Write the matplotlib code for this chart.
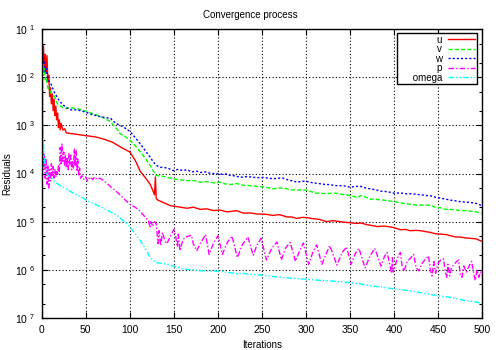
import math

import matplotlib

matplotlib.use("Agg")
import matplotlib.pyplot as plt
from matplotlib.ticker import FixedLocator, FuncFormatter, NullFormatter

plt.rcParams["font.family"] = ["Liberation Sans", "DejaVu Sans"]

# iteration / residual pairs
u_iter = [0, 1, 2, 3, 4, 5, 6, 7, 8, 9, 10, 11, 12, 13, 14, 15, 16, 17, 18, 19, 20,
          21, 22, 24, 26, 28, 32, 40, 50, 60, 70, 80, 90, 100, 106, 112, 118, 123,
          126, 128, 129, 130, 132, 138, 146, 150, 157, 165, 172, 180, 187, 195, 202,
          210, 217, 221, 229, 236, 244, 255, 262, 270, 278, 284, 289, 296, 303, 308,
          315, 323, 330, 336, 342, 350, 357, 362, 369, 375, 381, 388, 393, 399, 407,
          413, 418, 425, 430, 436, 441, 447, 453, 459, 464, 470, 475, 481, 487, 493,
          498, 500]
u_res = [5.5e-2, 2e-2, 4.5e-2, 1.5e-2, 3e-2, 1.2e-2, 2.8e-2, 8e-3, 1.1e-2, 4e-3,
         6e-3, 2.8e-3, 4.5e-3, 2e-3, 3.5e-3, 1.6e-3, 2.5e-3, 1.3e-3, 1.8e-3, 9e-4,
         1.3e-3, 8e-4, 1.1e-3, 8e-4, 8.5e-4, 7e-4, 6.8e-4, 6.5e-4, 6.1e-4, 5.8e-4,
         5.2e-4, 4.5e-4, 3.5e-4, 2.8e-4, 1.9e-4, 1.1e-4, 8e-5, 6e-5, 4.5e-5, 3.6e-5,
         8.5e-5, 3e-5, 2.8e-5, 2.5e-5, 2.15e-5, 2.1e-5, 2.0e-5, 1.9e-5, 2.0e-5,
         1.8e-5, 1.85e-5, 1.7e-5, 1.75e-5, 1.6e-5, 1.65e-5, 1.7e-5, 1.5e-5, 1.52e-5,
         1.45e-5, 1.42e-5, 1.35e-5, 1.4e-5, 1.26e-5, 1.25e-5, 1.17e-5, 1.23e-5,
         1.2e-5, 1.15e-5, 1.12e-5, 1.0e-5, 1.05e-5, 1.02e-5, 9.8e-6, 9.5e-6, 9.2e-6,
         9.4e-6, 8.7e-6, 8.3e-6, 7.9e-6, 8.1e-6, 7.9e-6, 7.6e-6, 6.8e-6, 6.9e-6,
         6.5e-6, 6.6e-6, 6.5e-6, 6.2e-6, 6.0e-6, 5.6e-6, 5.5e-6, 5.4e-6, 5.1e-6,
         4.8e-6, 4.8e-6, 4.6e-6, 4.5e-6, 4.4e-6, 4.0e-6, 3.9e-6]

v_iter = [0, 1, 2, 3, 4, 5, 7, 9, 11, 13, 15, 17, 19, 22, 26, 30, 35, 41, 49, 56, 64,
          71, 78, 85, 89, 95, 100, 106, 112, 118, 123, 127, 130, 134, 138, 144, 149,
          157, 164, 172, 180, 188, 195, 202, 208, 214, 221, 229, 236, 244, 252, 258,
          263, 269, 275, 282, 289, 296, 301, 306, 311, 317, 323, 329, 334, 340, 346,
          352, 359, 362, 368, 373, 380, 388, 394, 400, 406, 411, 418, 426, 433, 441,
          446, 452, 458, 464, 470, 475, 481, 487, 493, 500]
v_res = [1e-9, 2e-2, 1.2e-2, 1.5e-2, 9e-3, 1e-2, 5.9e-3, 5.5e-3, 4.5e-3, 4.3e-3,
         3.8e-3, 3e-3, 2.6e-3, 2.5e-3, 2.2e-3, 2.3e-3, 2.3e-3, 2.2e-3, 2.0e-3,
         1.8e-3, 1.6e-3, 1.4e-3, 1.2e-3, 8.5e-4, 6.7e-4, 5.8e-4, 4.9e-4, 3.8e-4,
         2.8e-4, 2.0e-4, 1.48e-4, 1.1e-4, 9.1e-5, 8.9e-5, 8.7e-5, 8.2e-5, 7.8e-5,
         7.4e-5, 7.1e-5, 7.2e-5, 6.6e-5, 6.8e-5, 6.4e-5, 6.6e-5, 6.1e-5, 5.9e-5,
         6.2e-5, 5.7e-5, 5.6e-5, 5.4e-5, 5.3e-5, 5.0e-5, 4.8e-5, 5.0e-5, 5.0e-5,
         4.6e-5, 4.5e-5, 4.6e-5, 4.5e-5, 4.2e-5, 3.9e-5, 3.9e-5, 3.8e-5, 3.9e-5,
         3.9e-5, 3.7e-5, 3.6e-5, 3.4e-5, 3.2e-5, 3.5e-5, 3.2e-5, 2.95e-5, 2.9e-5,
         2.8e-5, 2.7e-5, 2.6e-5, 2.5e-5, 2.4e-5, 2.3e-5, 2.2e-5, 2.2e-5, 2.2e-5,
         2.0e-5, 1.95e-5, 1.8e-5, 1.8e-5, 1.75e-5, 1.7e-5, 1.7e-5, 1.65e-5, 1.6e-5,
         1.48e-5]

w_iter = [0, 1, 2, 3, 4, 5, 7, 9, 11, 14, 17, 20, 23, 27, 33, 40, 49, 56, 64, 72, 78,
          84, 89, 95, 100, 106, 112, 118, 123, 127, 131, 135, 138, 143, 149, 155,
          160, 165, 170, 176, 180, 186, 192, 199, 205, 210, 214, 220, 225, 231, 237,
          244, 252, 257, 263, 269, 274, 280, 285, 290, 295, 300, 306, 311, 317, 322,
          327, 333, 338, 344, 350, 356, 362, 368, 373, 379, 385, 392, 400, 407, 413,
          419, 425, 431, 436, 441, 447, 452, 458, 464, 470, 475, 481, 487, 493, 498,
          500]
w_res = [1e-9, 3e-2, 2e-2, 2.2e-2, 1.3e-2, 1.5e-2, 9.5e-3, 8e-3, 6.9e-3, 5e-3,
         4e-3, 3.2e-3, 2.8e-3, 2.4e-3, 2.1e-3, 2.1e-3, 1.9e-3, 1.7e-3, 1.55e-3,
         1.45e-3, 1.4e-3, 1.1e-3, 1.0e-3, 8.7e-4, 7.5e-4, 5.6e-4, 4.1e-4, 2.9e-4,
         2.2e-4, 1.7e-4, 1.45e-4, 1.35e-4, 1.33e-4, 1.3e-4, 1.15e-4, 1.22e-4,
         1.15e-4, 1.2e-4, 1.08e-4, 1.12e-4, 1.05e-4, 1.08e-4, 1.0e-4, 1.0e-4,
         9.6e-5, 9.8e-5, 9.1e-5, 8.9e-5, 8.3e-5, 8.6e-5, 8.5e-5, 8.2e-5, 8.3e-5,
         8.0e-5, 7.8e-5, 8.0e-5, 8.0e-5, 7.3e-5, 7.0e-5, 6.6e-5, 6.9e-5, 6.9e-5,
         6.5e-5, 6.3e-5, 6.1e-5, 5.9e-5, 5.9e-5, 5.6e-5, 5.6e-5, 5.5e-5, 5.2e-5,
         5.4e-5, 5.4e-5, 5.0e-5, 4.8e-5, 4.6e-5, 4.3e-5, 4.2e-5, 3.9e-5, 3.95e-5,
         3.8e-5, 3.8e-5, 3.7e-5, 3.6e-5, 3.5e-5, 3.45e-5, 3.2e-5, 3.1e-5, 2.95e-5,
         2.8e-5, 2.7e-5, 2.6e-5, 2.55e-5, 2.5e-5, 2.4e-5, 2.2e-5, 2.1e-5]

p_iter = [1, 2, 3, 4, 5, 6, 7, 8, 9, 10, 11, 12, 13, 14, 15, 16, 17, 18, 19, 20, 21,
          22, 23, 24, 25, 26, 27, 28, 29, 30, 31, 32, 33, 34, 35, 36, 37, 38, 39, 40,
          41, 42, 43, 44, 46, 48, 50, 52, 55, 58, 60, 63, 66, 70, 75, 80, 85, 89, 95,
          100, 106, 111, 115, 119, 121, 123, 124, 126, 128, 130, 132, 133, 135, 137,
          139, 141, 143, 146, 150, 152, 154, 155, 157, 159, 162, 166, 170, 172, 176,
          181, 186, 190, 195, 200, 205, 211, 216, 222, 228, 234, 240, 244, 249, 255,
          261, 267, 272, 277, 282, 288, 293, 297, 303, 308, 312, 318, 323, 327, 335,
          341, 346, 351, 356, 360, 367, 373, 378, 385, 389, 392, 397, 398, 399, 403,
          405, 407, 409, 411, 415, 419, 422, 425, 428, 432, 436, 439, 441, 443, 445,
          447, 450, 453, 456, 458, 460, 461, 463, 465, 468, 471, 473, 475, 477, 479,
          482, 485, 488, 490, 492, 494, 496, 498, 500]
p_res = [3e-4, 1.2e-4, 2.5e-4, 8e-5, 2e-4, 6e-5, 1.5e-4, 5e-5, 1.2e-4, 7e-5, 1.6e-4,
         9e-5, 1.4e-4, 8e-5, 1.2e-4, 8.5e-5, 1.1e-4, 9e-5, 1.5e-4, 1.1e-4, 3.5e-4,
         1.5e-4, 4.2e-4, 1.8e-4, 2.8e-4, 1.4e-4, 2.5e-4, 1.3e-4, 2.2e-4, 1.2e-4,
         2.6e-4, 1.5e-4, 2.4e-4, 1.2e-4, 1.9e-4, 1.3e-4, 3.2e-4, 1.4e-4, 3.0e-4,
         1.1e-4, 2.0e-4, 9e-5, 1.3e-4, 8e-5, 9e-5, 7.5e-5, 8.5e-5, 7e-5, 8.5e-5,
         7.5e-5, 8.5e-5, 7.5e-5, 8e-5, 7.2e-5, 6e-5, 5e-5, 4.2e-5, 3.6e-5, 2.8e-5,
         2.3e-5, 2e-5, 1.7e-5, 1.4e-5, 1.15e-5, 1.1e-5, 7.5e-6, 1e-5, 8e-6, 1e-5,
         9e-6, 3.5e-6, 6.5e-6, 3.2e-6, 6e-6, 4.5e-6, 3.5e-6, 3.8e-6, 5e-6, 6.9e-6,
         5e-6, 3e-6, 5.5e-6, 2.5e-6, 3.5e-6, 4.7e-6, 5.0e-6, 5.2e-6, 3.5e-6, 2.5e-6,
         3.8e-6, 5.4e-6, 2.1e-6, 3.6e-6, 5.1e-6, 2.1e-6, 3.8e-6, 5.0e-6, 1.8e-6,
         3.4e-6, 4.8e-6, 2.0e-6, 3.2e-6, 4.5e-6, 1.6e-6, 2.8e-6, 3.8e-6, 1.6e-6,
         2.9e-6, 3.7e-6, 1.5e-6, 2.6e-6, 3.6e-6, 1.3e-6, 2.4e-6, 3.3e-6, 1.3e-6,
         2.2e-6, 3.2e-6, 1.25e-6, 2.3e-6, 3.0e-6, 1.3e-6, 2.2e-6, 2.8e-6, 1.1e-6,
         2.0e-6, 2.8e-6, 1.2e-6, 1.9e-6, 2.3e-6, 8.5e-7, 1.8e-6, 9e-7, 1.6e-6,
         2.0e-6, 2.3e-6, 1.2e-6, 9.5e-7, 1.5e-6, 1.8e-6, 2.1e-6, 1.1e-6, 9.5e-7,
         1.4e-6, 1.7e-6, 1.95e-6, 1.0e-6, 7.5e-7, 1.5e-6, 8.5e-7, 1.4e-6, 1.6e-6,
         1.7e-6, 9e-7, 6.8e-7, 1.3e-6, 7.5e-7, 1.1e-6, 1.3e-6, 1.5e-6, 1.6e-6, 8e-7,
         7e-7, 1.2e-6, 9e-7, 1.2e-6, 1.5e-6, 9e-7, 6e-7, 1.0e-6, 7e-7, 9e-7, 7.5e-7]

om_iter = [0, 1, 2, 3, 4, 5, 7, 10, 14, 18, 24, 30, 36, 41, 47, 52, 58, 64, 70, 75,
           81, 86, 91, 96, 100, 106, 112, 118, 123, 127, 131, 138, 143, 149, 155, 160,
           165, 172, 180, 190, 202, 212, 221, 230, 236, 245, 252, 262, 274, 285, 300,
           313, 327, 337, 346, 359, 370, 380, 390, 400, 412, 425, 436, 450, 463, 472,
           480, 490, 500]
om_res = [1e-9, 1.1e-3, 4e-4, 2e-4, 1.3e-4, 1.1e-4, 9.1e-5, 8.5e-5, 7e-5, 6.1e-5,
          5.2e-5, 4.5e-5, 3.9e-5, 3.5e-5, 3.1e-5, 2.7e-5, 2.4e-5, 2.15e-5, 1.9e-5,
          1.7e-5, 1.5e-5, 1.33e-5, 1.1e-5, 9.5e-6, 7.8e-6, 5.6e-6, 4.0e-6, 2.7e-6,
          1.8e-6, 1.55e-6, 1.4e-6, 1.35e-6, 1.3e-6, 1.2e-6, 1.12e-6, 1.05e-6,
          1.02e-6, 1.0e-6, 9.6e-7, 9.5e-7, 9.4e-7, 8.8e-7, 8.3e-7, 8.4e-7, 8.1e-7,
          7.9e-7, 7.7e-7, 7.3e-7, 6.9e-7, 6.7e-7, 6.4e-7, 6.1e-7, 5.9e-7, 5.7e-7,
          5.5e-7, 5.2e-7, 4.8e-7, 4.5e-7, 4.3e-7, 4.0e-7, 3.8e-7, 3.5e-7, 3.2e-7,
          2.9e-7, 2.7e-7, 2.5e-7, 2.3e-7, 2.2e-7, 2.0e-7]

x_ticks = [0, 50, 100, 150, 200, 250, 300, 350, 400, 450, 500]
y_decades = [1e-7, 1e-6, 1e-5, 1e-4, 1e-3, 1e-2, 1e-1]

fig = plt.figure(figsize=(5.0, 3.5), dpi=100, facecolor="white")
ax = fig.add_axes([0.0834, 0.0914, 0.8812, 0.8257])

ax.plot(u_iter, u_res, color="#ff0000", lw=1.0, label="u")
ax.plot(v_iter, v_res, color="#00ff00", lw=1.0, ls=(0, (3, 1.5)), label="v")
ax.plot(w_iter, w_res, color="#0000ff", lw=1.0, ls=(0, (1.5, 1.5)), label="w")
ax.plot(p_iter, p_res, color="#ff00ff", lw=1.0, ls=(0, (4, 1.5, 1, 1.5)), label="p")
# leading spaces widen the label column like gnuplot's key box
ax.plot(om_iter, om_res, color="#00ffff", lw=1.0,
        ls=(0, (4, 1.5, 1, 1.5, 1, 1.5)), label="     omega")

ax.set_yscale("log")
ax.set_xlim(0, 500)
ax.set_ylim(1e-7, 1e-1)

ax.xaxis.set_major_locator(FixedLocator(x_ticks))
ax.yaxis.set_major_locator(FixedLocator(y_decades))
minors = [m * d for d in y_decades[:-1] for m in (2, 5)]
ax.yaxis.set_minor_locator(FixedLocator(minors))
ax.yaxis.set_minor_formatter(NullFormatter())


def decade_label(val, pos):
    # the original prints the exponent without its minus sign
    e = abs(int(round(math.log10(val))))
    return r"$\mathregular{10^{\ %d}}$" % e


ax.yaxis.set_major_formatter(FuncFormatter(decade_label))

ax.tick_params(which="both", direction="in", top=True, right=True,
               labelsize=7.5, color="black")
ax.tick_params(which="major", length=4, width=0.8)
ax.tick_params(which="minor", length=2.5, width=0.8)
ax.tick_params(axis="x", pad=5)
ax.tick_params(axis="y", pad=5)

ax.grid(True, which="major", color="black", lw=0.8, ls=(0, (1, 2)))
for s in ax.spines.values():
    s.set_linewidth(1.0)
    s.set_color("black")

ax.set_xlabel("Iterations", fontsize=7)
ax.set_ylabel("Residuals", fontsize=7)
ax.xaxis.set_label_coords(0.5, -0.075)
ax.yaxis.set_label_coords(-0.066, 0.5)
fig.text(0.5, 1 - 15 / 350, "Convergence process", ha="center", va="center",
         fontsize=7)

leg = ax.legend(loc="upper right", bbox_to_anchor=(0.9873, 0.985),
                borderaxespad=0, fontsize=7, markerfirst=False,
                handlelength=2.8, handletextpad=0.6, labelspacing=-0.05,
                borderpad=0.15, fancybox=False, framealpha=1,
                edgecolor="black")
leg.get_frame().set_linewidth(1.0)

fig.savefig("out.png", dpi=100, facecolor="white")
